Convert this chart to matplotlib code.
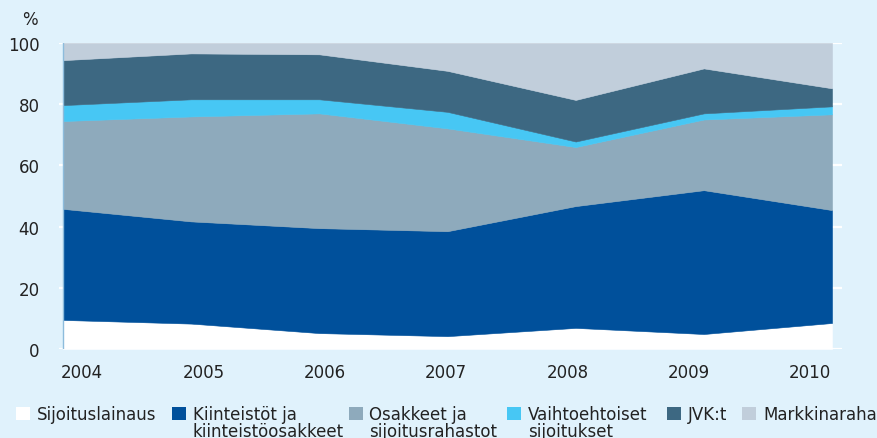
import numpy as np
import matplotlib
matplotlib.use("Agg")
import matplotlib.pyplot as plt
from matplotlib.patches import Rectangle

plt.rcParams['font.family'] = ['DejaVu Sans']

years = ["2004", "2005", "2006", "2007", "2008", "2009", "2010"]
labels = ["Sijoituslainaus", "Kiinteistöt ja\nkiinteistöosakkeet", "Osakkeet ja\nsijoitusrahastot",
          "Vaihtoehtoiset\nsijoitukset", "JVK:t", "Markkinaraha"]

# shares in %
sijoituslainaus = [9.5, 8.3, 5.2, 4.2, 6.9, 4.9, 8.5]
kiinteistot = [36.3, 33.4, 34.3, 34.3, 39.8, 47.0, 36.9]
osakkeet = [28.7, 34.3, 37.5, 33.6, 19.3, 23.1, 31.3]
vaihtoehtoiset = [5.2, 5.6, 4.6, 5.4, 1.8, 2.0, 2.6]
jvk = [14.7, 15.0, 14.7, 13.4, 13.6, 14.7, 5.9]
markkinaraha = [5.6, 3.4, 3.7, 9.1, 18.6, 8.3, 14.8]

colors = ["#ffffff", "#00509b", "#8eaabc", "#47c7f4", "#3d6882", "#c1cedb"]
bg = "#e0f2fc"
W, H = 877, 439

fig = plt.figure(figsize=(W / 100, H / 100), dpi=100, facecolor=bg)
ax = fig.add_axes([59 / W, (H - 350) / H, 783 / W, 306 / H])
ax.set_facecolor(bg)

x = np.arange(len(years))
series = [sijoituslainaus, kiinteistot, osakkeet, vaihtoehtoiset, jvk, markkinaraha]
base = np.zeros(len(years))
for s, c in zip(series, colors):
    top = base + np.array(s)
    ax.fill_between(x, base, top, facecolor=c, edgecolor=c, lw=0.4, zorder=2)
    base = top

px = 128.17  # pixels per year
ax.set_xlim(-4 / px, 6 + 10 / px)
ax.set_ylim(0, 100)
ax.set_yticks(np.arange(0, 101, 20))
ax.yaxis.grid(True, color="white", lw=1.6, zorder=1)
ax.set_axisbelow(True)
ax.axvline(0, color="#8dbcdc", lw=1, zorder=3)
for sp in ax.spines.values():
    sp.set_visible(False)

ax.set_xticks(np.linspace(0.15, 5.83, 7))
ax.set_xticklabels(years)
ax.tick_params(axis="both", length=0, labelsize=12, colors="#222222")
ax.tick_params(axis="y", pad=14)
ax.tick_params(axis="x", pad=10)

fig.text(30 / W, 1 - 20 / H, "%", ha="center", va="center", fontsize=12, color="#222222")

# legend
sq_x = [16, 172, 349, 507, 667, 742]
tx_x = [37, 193, 369, 528, 688, 763]
for sx, tx, lab, c in zip(sq_x, tx_x, labels, colors):
    fig.add_artist(Rectangle((sx / W, 1 - 421 / H), 14 / W, 13 / H, transform=fig.transFigure,
                             facecolor=c, edgecolor="none"))
    fig.text(tx / W, 1 - 406 / H, lab, ha="left", va="top", fontsize=12, color="#222222",
             linespacing=0.95)

fig.savefig("out.png", dpi=100, facecolor=bg)
